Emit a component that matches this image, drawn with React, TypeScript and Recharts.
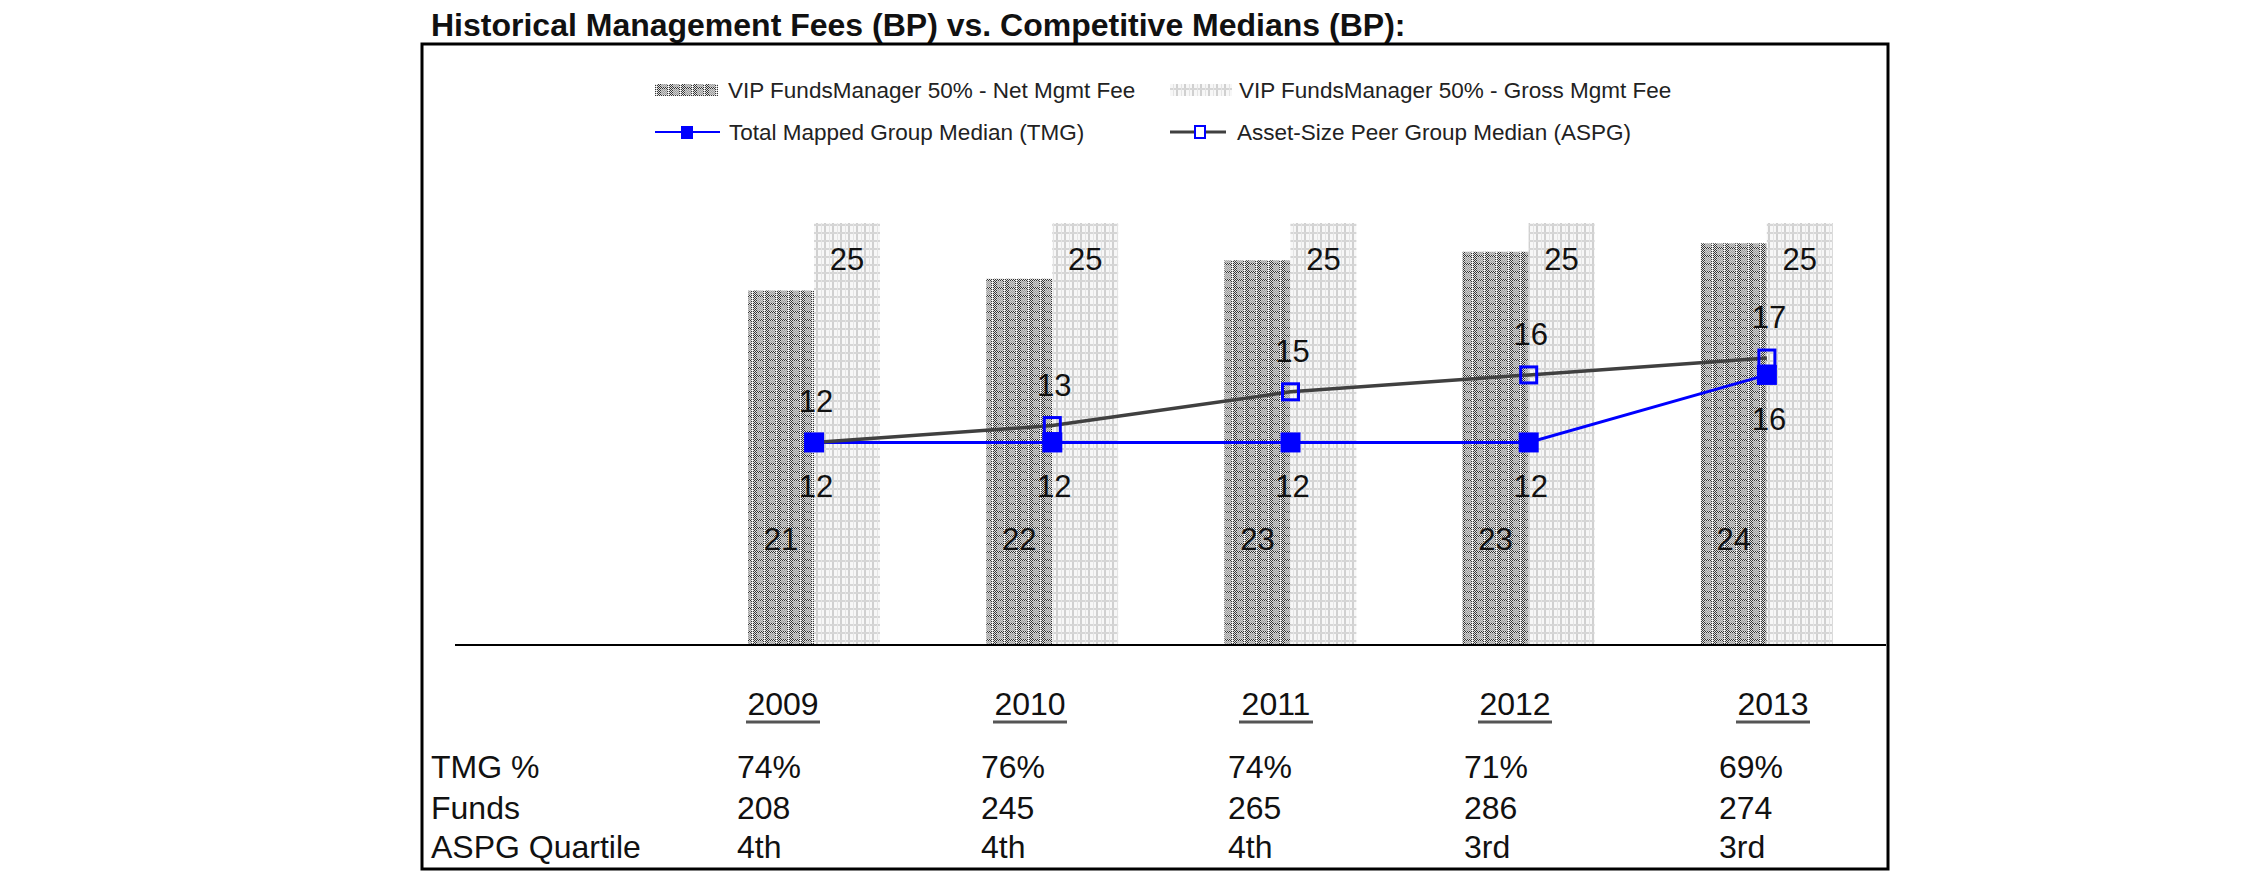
import React from "react";
import {
  ComposedChart,
  Bar,
  Line,
  XAxis,
  YAxis,
  LabelList,
} from "recharts";

const YEARS = ["2009", "2010", "2011", "2012", "2013"];
const NET_FEE = [21.0, 21.7, 22.8, 23.3, 23.8];
const GROSS_FEE = [25, 25, 25, 25, 25];
const TMG_MEDIAN = [12, 12, 12, 12, 16];
const ASPG_MEDIAN = [12, 13, 15, 16, 17];

const TMG_PCT = ["74%", "76%", "74%", "71%", "69%"];
const FUNDS = ["208", "245", "265", "286", "274"];
const ASPG_QUARTILE = ["4th", "4th", "4th", "3rd", "3rd"];

const FONT = "'Liberation Sans', Arial, sans-serif";
const BLUE = "#0000FF";
const GREY_LINE = "#404040";

const rows = YEARS.map((year, i) => ({
  year,
  net: NET_FEE[i],
  gross: GROSS_FEE[i],
  tmg: TMG_MEDIAN[i],
  aspg: ASPG_MEDIAN[i],
}));

// column anchors of the little table under the chart
const YEAR_CENTERS = [783, 1030, 1276, 1515, 1773];
const VALUE_LEFTS = [737, 981, 1228, 1464, 1719];

function box(props: any) {
  const vb = props.viewBox || {};
  return {
    x: props.x ?? vb.x,
    y: props.y ?? vb.y,
    width: props.width ?? vb.width ?? 0,
    height: props.height ?? vb.height ?? 0,
  };
}

function NetLabel(props: any) {
  const { x, y, width, height } = box(props);
  return (
    <text x={x + width / 2} y={y + height - 95} textAnchor="middle" fontSize={31} fontFamily={FONT} fill="#111">
      {Math.round(props.value)}
    </text>
  );
}

function GrossLabel(props: any) {
  const { x, y, width } = box(props);
  return (
    <text x={x + width / 2} y={y + 47} textAnchor="middle" fontSize={31} fontFamily={FONT} fill="#111">
      {Math.round(props.value)}
    </text>
  );
}

function BelowLabel(props: any) {
  const { x, y } = box(props);
  return (
    <text x={x + 2} y={y + 55} textAnchor="middle" fontSize={31} fontFamily={FONT} fill="#111">
      {props.value}
    </text>
  );
}

function AboveLabel(props: any) {
  const { x, y } = box(props);
  return (
    <text x={x + 2} y={y - 30} textAnchor="middle" fontSize={31} fontFamily={FONT} fill="#111">
      {props.value}
    </text>
  );
}

function FilledSquare(props: any) {
  const { cx, cy, index } = props;
  return <rect key={`tmg-${index}`} x={cx - 10} y={cy - 10} width={20} height={20} fill={BLUE} />;
}

function OpenSquare(props: any) {
  const { cx, cy, index } = props;
  return (
    <rect key={`aspg-${index}`} x={cx - 8} y={cy - 8} width={16} height={16} fill="none" stroke={BLUE} strokeWidth={3} />
  );
}

// dithered texture of the net-fee bars: dark checker columns, a grey block, a dotted white line
function netCells() {
  const cells = [];
  for (let x = 0; x < 12; x++) {
    for (let y = 0; y < 8; y++) {
      let c;
      if (x === 8) c = y % 2 === 0 ? "#ffffff" : "#cfcfcf";
      else if (x >= 1 && x <= 6 && y >= 1 && y <= 6) c = (x + y) % 2 === 0 ? "#9e9e9e" : "#cdcdcd";
      else c = (x + y) % 2 === 0 ? "#353535" : "#e2e2e2";
      cells.push(<rect key={`${x}-${y}`} x={x} y={y} width={1} height={1} fill={c} />);
    }
  }
  return cells;
}

function Patterns() {
  return (
    <defs>
      <pattern id="netPat" width={12} height={8} patternUnits="userSpaceOnUse">
        {netCells()}
      </pattern>
      <pattern id="grossPat" width={8} height={8} patternUnits="userSpaceOnUse">
        <rect width={8} height={8} fill="#f7f7f7" />
        <rect x={0} y={0} width={2} height={8} fill="#d0d0d0" />
        <rect x={0} y={0} width={8} height={2} fill="#d6d6d6" />
        <rect x={5} y={0} width={1} height={8} fill="#e4e4e4" />
      </pattern>
    </defs>
  );
}

function Frame() {
  const legendText = { fontSize: 22.5, fontFamily: FONT, fill: "#222" };
  const cell = { fontSize: 32, fontFamily: FONT, fill: "#111" };
  return (
    <svg width={2250} height={895} style={{ position: "absolute", left: 0, top: 0 }}>
      <Patterns />
      <text x={431} y={36} fontSize={32} fontWeight={700} fontFamily={FONT} fill="#111">
        Historical Management Fees (BP) vs. Competitive Medians (BP):
      </text>
      <rect x={422} y={44} width={1466} height={825} fill="none" stroke="#000" strokeWidth={3} />

      {/* legend */}
      <rect x={655} y={84} width={63} height={12} fill="url(#netPat)" />
      <text x={728} y={98} {...legendText}>VIP FundsManager 50% - Net Mgmt Fee</text>
      <rect x={1170} y={84} width={62} height={12} fill="url(#grossPat)" />
      <text x={1239} y={98} {...legendText}>VIP FundsManager 50% - Gross Mgmt Fee</text>

      <line x1={655} y1={132} x2={720} y2={132} stroke={BLUE} strokeWidth={2} />
      <rect x={681} y={126} width={12} height={13} fill={BLUE} />
      <text x={729} y={140} {...legendText}>Total Mapped Group Median (TMG)</text>
      <line x1={1170} y1={132} x2={1226} y2={132} stroke={GREY_LINE} strokeWidth={3} />
      <rect x={1195} y={126} width={10} height={12} fill="#fff" stroke={BLUE} strokeWidth={2} />
      <text x={1237} y={140} {...legendText}>Asset-Size Peer Group Median (ASPG)</text>

      {/* table under the chart */}
      {YEARS.map((y, i) => (
        <g key={y}>
          <text x={YEAR_CENTERS[i]} y={715} textAnchor="middle" {...cell}>{y}</text>
          <line x1={YEAR_CENTERS[i] - 37} y1={722} x2={YEAR_CENTERS[i] + 37} y2={722} stroke="#555" strokeWidth={3} />
        </g>
      ))}
      <text x={431} y={778} {...cell}>TMG %</text>
      <text x={431} y={819} {...cell}>Funds</text>
      <text x={431} y={858} {...cell}>ASPG Quartile</text>
      {VALUE_LEFTS.map((x, i) => (
        <g key={x}>
          <text x={x} y={778} {...cell}>{TMG_PCT[i]}</text>
          <text x={x} y={819} {...cell}>{FUNDS[i]}</text>
          <text x={x} y={858} {...cell}>{ASPG_QUARTILE[i]}</text>
        </g>
      ))}
    </svg>
  );
}

export default function App() {
  return (
    <div style={{ position: "absolute", left: 0, top: 0, width: 2250, height: 895, background: "#fff" }}>
      <Frame />
      <div style={{ position: "absolute", left: 0, top: 0 }}>
        <ComposedChart
          width={2250}
          height={895}
          data={rows}
          margin={{ top: 223, right: 364, bottom: 220, left: 455 }}
          barGap={0}
          barSize={66}
        >
          <XAxis
            dataKey="year"
            padding={{ left: 240, right: 0 }}
            tick={false}
            tickLine={false}
            axisLine={{ stroke: "#000", strokeWidth: 2 }}
            height={30}
          />
          <YAxis hide domain={[0, 25]} />
          <Bar dataKey="net" fill="url(#netPat)" isAnimationActive={false}>
            <LabelList dataKey="net" content={NetLabel} />
          </Bar>
          <Bar dataKey="gross" fill="url(#grossPat)" isAnimationActive={false}>
            <LabelList dataKey="gross" content={GrossLabel} />
          </Bar>
          <Line
            type="linear"
            dataKey="tmg"
            stroke={BLUE}
            strokeWidth={3}
            dot={FilledSquare}
            activeDot={false}
            isAnimationActive={false}
          >
            <LabelList dataKey="tmg" content={BelowLabel} />
          </Line>
          <Line
            type="linear"
            dataKey="aspg"
            stroke={GREY_LINE}
            strokeWidth={3.5}
            dot={OpenSquare}
            activeDot={false}
            isAnimationActive={false}
          >
            <LabelList dataKey="aspg" content={AboveLabel} />
          </Line>
        </ComposedChart>
      </div>
    </div>
  );
}
